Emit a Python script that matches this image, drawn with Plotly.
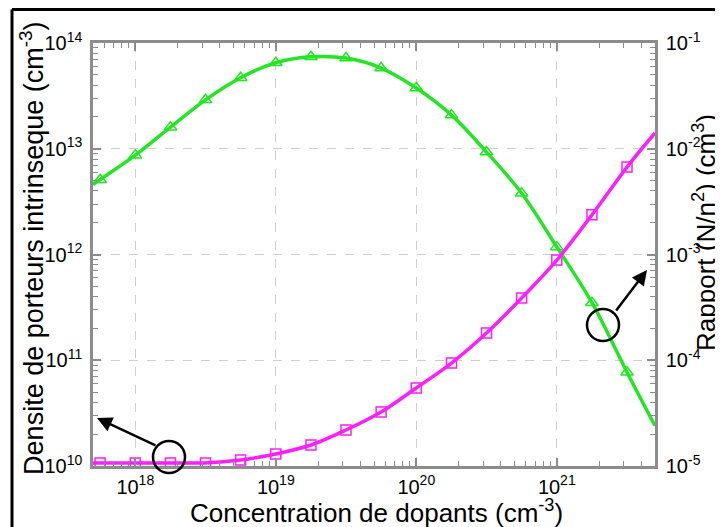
import math
import plotly.graph_objects as go

# ---- data ----
dopants = [5.62e17, 1.0e18, 1.78e18, 3.16e18, 5.62e18, 1.0e19, 1.78e19, 3.16e19,
           5.62e19, 1.0e20, 1.78e20, 3.16e20, 5.62e20, 1.0e21, 1.78e21, 3.16e21]
ni_values = [5.1e12, 8.7e12, 1.6e13, 2.9e13, 4.7e13, 6.5e13, 7.4e13, 7.2e13,
             5.8e13, 3.75e13, 2.08e13, 9.3e12, 3.8e12, 1.18e12, 3.5e11, 7.7e10]
ratio_values = [1.07e-5, 1.07e-5, 1.07e-5, 1.07e-5, 1.14e-5, 1.30e-5, 1.58e-5, 2.19e-5,
                3.24e-5, 5.47e-5, 9.4e-5, 1.81e-4, 3.88e-4, 8.87e-4, 2.37e-3, 6.71e-3]
# curve end values at the axis limits
x_start, x_end = 5e17, 5e21
ni_start, ni_end = 4.6e12, 2.4e10
ratio_start, ratio_end = 1.07e-5, 1.41e-2

x_ticks = [1e18, 1e19, 1e20, 1e21]
x_ticktext = ["10<sup>18</sup>", "10<sup>19</sup>", "10<sup>20</sup>", "10<sup>21</sup>"]
y_ticks = [1e10, 1e11, 1e12, 1e13, 1e14]
y_ticktext = ["10<sup>10</sup>", "10<sup>11</sup>", "10<sup>12</sup>", "10<sup>13</sup>", "10<sup>14</sup>"]
y2_ticks = [1e-5, 1e-4, 1e-3, 1e-2, 1e-1]
y2_ticktext = ["10<sup>-5</sup>", "10<sup>-4</sup>", "10<sup>-3</sup>", "10<sup>-2</sup>", "10<sup>-1</sup>"]

GREEN = "#22e622"
MAGENTA = "#ff1eff"
AXIS = "#8c8c8c"
FONT = "Liberation Sans, Arial, sans-serif"

line_x = [x_start] + dopants + [x_end]
fig = go.Figure()
fig.add_trace(go.Scatter(x=line_x, y=[ni_start] + ni_values + [ni_end], mode="lines",
                         line=dict(color=GREEN, width=3.5, shape="spline"), hoverinfo="skip"))
fig.add_trace(go.Scatter(x=dopants, y=ni_values, mode="markers",
                         marker=dict(symbol="triangle-up-open", size=11, color=GREEN,
                                     line=dict(width=1.5, color=GREEN))))
fig.add_trace(go.Scatter(x=line_x, y=[ratio_start] + ratio_values + [ratio_end], mode="lines",
                         line=dict(color=MAGENTA, width=3.5, shape="spline"), yaxis="y2",
                         hoverinfo="skip"))
fig.add_trace(go.Scatter(x=dopants, y=ratio_values, mode="markers", yaxis="y2",
                         marker=dict(symbol="square-open", size=10, color=MAGENTA,
                                     line=dict(width=1.5, color=MAGENTA))))

def minor_vals(lo, hi):
    vals = []
    for e in range(lo, hi + 1):
        for m in range(2, 10):
            vals.append(m * 10.0 ** e)
    return vals

common = dict(ticks="inside", ticklen=8, tickwidth=1.5, tickcolor=AXIS,
              showline=True, linecolor=AXIS, linewidth=2.5,
              tickfont=dict(family=FONT, size=20, color="black"), zeroline=False)

# the page body adds an 8px offset; plot area sits at page px x 93-655, y 43-466
fig.update_layout(
    width=723, height=527,
    margin=dict(l=85, r=76, t=35, b=69),
    plot_bgcolor="white", paper_bgcolor="white", showlegend=False,
    xaxis=dict(type="log", range=[math.log10(x_start), math.log10(x_end)],
               tickmode="array", tickvals=x_ticks, ticktext=x_ticktext, mirror="ticks",
               showgrid=True, gridcolor="#cfcfcf", griddash="dash", gridwidth=1.3,
               minor=dict(tickmode="array", tickvals=minor_vals(17, 21), ticks="inside",
                          ticklen=5, tickcolor=AXIS, tickwidth=1.2, showgrid=False),
               ticklabelstandoff=1, **common),
    yaxis=dict(type="log", range=[10, 14], tickmode="array", tickvals=y_ticks,
               ticktext=y_ticktext,
               showgrid=True, gridcolor="#cfcfcf", griddash="dash", gridwidth=1.3,
               minor=dict(tickmode="array", tickvals=minor_vals(10, 13), ticks="inside",
                          ticklen=5, tickcolor=AXIS, tickwidth=1.2, showgrid=False),
               ticklabelstandoff=4, **common),
    yaxis2=dict(type="log", range=[-5, -1], overlaying="y", side="right",
                tickmode="array", tickvals=y2_ticks, ticktext=y2_ticktext, showgrid=False,
                minor=dict(tickmode="array", tickvals=minor_vals(-5, -2), ticks="inside",
                           ticklen=5, tickcolor=AXIS, tickwidth=1.2, showgrid=False),
                ticklabelstandoff=4, **common),
)

# axis titles
fig.add_annotation(text="Concentration de dopants (cm<sup>-3</sup>)", xref="paper", yref="paper",
                   x=0.505, y=-0.107, showarrow=False, xanchor="center", yanchor="middle",
                   font=dict(family=FONT, size=26, color="black"))
fig.add_annotation(text="Densite de porteurs intrinseque (cm<sup>-3</sup>)", xref="paper", yref="paper",
                   x=-0.109, y=0.515, showarrow=False, textangle=-90, xanchor="center",
                   yanchor="middle", font=dict(family=FONT, size=27, color="black"))
fig.add_annotation(text="Rapport (N/n<sup>2</sup>) (cm<sup>3</sup>)", xref="paper", yref="paper",
                   x=1.089, y=0.551, showarrow=False, textangle=-90, xanchor="center",
                   yanchor="middle", font=dict(family=FONT, size=26, color="black"))

# circles and arrows
fig.add_shape(type="circle", xref="paper", yref="paper", xsizemode="pixel", ysizemode="pixel",
              xanchor=(169 - 93) / 562, yanchor=(466 - 457) / 423,
              x0=-16, x1=16, y0=-16, y1=16, line=dict(color="black", width=2.5))
fig.add_shape(type="circle", xref="paper", yref="paper", xsizemode="pixel", ysizemode="pixel",
              xanchor=(603 - 93) / 562, yanchor=(466 - 325) / 423,
              x0=-16, x1=16, y0=-16, y1=16, line=dict(color="black", width=2.5))
fig.add_annotation(text="", xref="paper", yref="paper", x=(97 - 93) / 562, y=(466 - 418) / 423,
                   showarrow=True, arrowhead=2, arrowsize=1.2, arrowwidth=2.5, arrowcolor="black",
                   ax=60, ay=28)
fig.add_annotation(text="", xref="paper", yref="paper", x=(647 - 93) / 562, y=(466 - 270) / 423,
                   showarrow=True, arrowhead=2, arrowsize=1.2, arrowwidth=2.5, arrowcolor="black",
                   ax=-32, ay=42)

# outer frame (top and left)
fig.add_shape(type="line", xref="paper", yref="paper", x0=(12 - 93) / 562, x1=(12 - 93) / 562,
              y0=(466 - 540) / 423, y1=(466 - 9.5) / 423, line=dict(color="black", width=3))
fig.add_shape(type="line", xref="paper", yref="paper", x0=(12 - 93) / 562, x1=(740 - 93) / 562,
              y0=(466 - 9.5) / 423, y1=(466 - 9.5) / 423, line=dict(color="black", width=3))

fig.write_html("out.html")
